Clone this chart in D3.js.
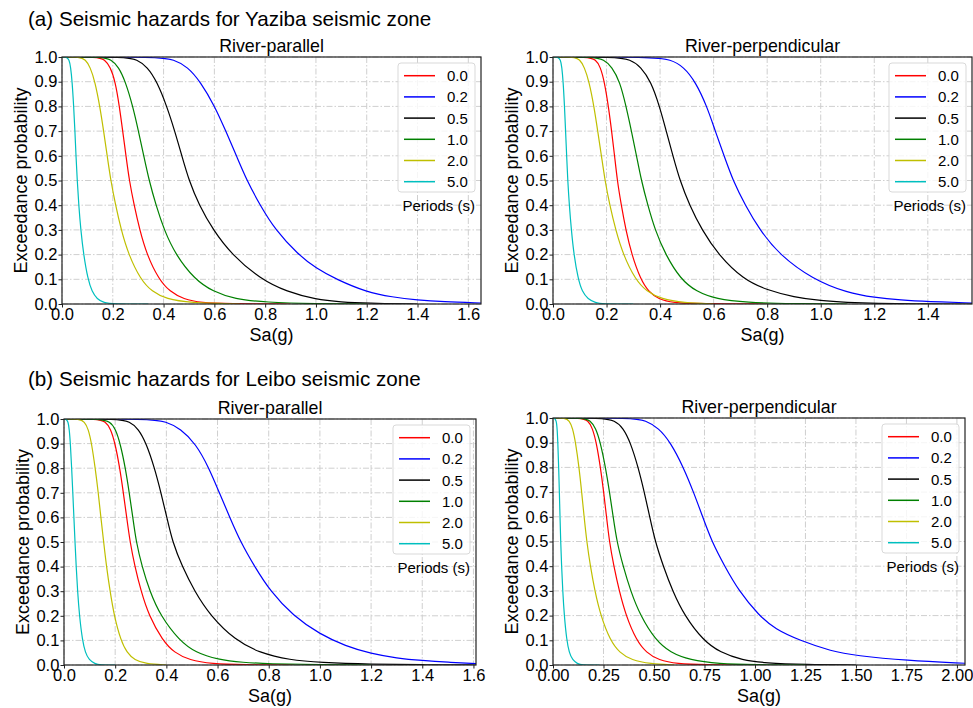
<!DOCTYPE html>
<html lang="en">
<head>
<meta charset="UTF-8" />
<title>Seismic hazards - exceedance probability</title>
<script src="https://d3js.org/d3.v7.min.js"></script>
<style>
  body { margin: 0; background: #fff; }
  svg text { font-family: Arial, "Liberation Sans", sans-serif; fill: #000; }
  .grid line { stroke: #cfcfcf; stroke-width: 1; stroke-dasharray: 6,2,1.5,2; }
</style>
</head>
<body>
<svg id="chart" width="973" height="708"></svg>
<script>
// ---------------------------------------------------------------
// Data: [Sa (g), exceedance probability]
// series order follows the periods list
// ---------------------------------------------------------------
const periods = ["0.0", "0.2", "0.5", "1.0", "2.0", "5.0"];
const yTicks = [0, 0.1, 0.2, 0.3, 0.4, 0.5, 0.6, 0.7, 0.8, 0.9, 1.0];
const xTicksA1 = [0, 0.2, 0.4, 0.6, 0.8, 1.0, 1.2, 1.4, 1.6];
const xTicksA2 = [0, 0.2, 0.4, 0.6, 0.8, 1.0, 1.2, 1.4];
const xTicksB1 = [0, 0.2, 0.4, 0.6, 0.8, 1.0, 1.2, 1.4, 1.6];
const xTicksB2 = [0, 0.25, 0.5, 0.75, 1.0, 1.25, 1.5, 1.75, 2.0];
const xMaxes = [1.65, 1.565, 1.61, 2.04];

// (a) Yaziba, river-parallel
const yazibaParallel = [
  [[0,1],[0.14,1],[0.168,0.99],[0.19,0.96],[0.21,0.9],[0.226,0.8],[0.239,0.7],[0.252,0.6],[0.265,0.5],[0.284,0.4],[0.306,0.3],[0.334,0.2],[0.381,0.1],[0.425,0.05],[0.478,0.02],[0.55,0.005],[0.65,0.001],[0.9,0]],
  [[0,1],[0.38,1],[0.44,0.99],[0.495,0.96],[0.545,0.9],[0.602,0.8],[0.645,0.7],[0.687,0.6],[0.728,0.5],[0.78,0.4],[0.84,0.3],[0.93,0.2],[1.0,0.145],[1.08,0.1],[1.2,0.048],[1.3,0.028],[1.4,0.016],[1.5,0.009],[1.65,0.004]],
  [[0,1],[0.25,1],[0.295,0.99],[0.336,0.96],[0.374,0.9],[0.413,0.8],[0.444,0.7],[0.472,0.6],[0.5,0.5],[0.54,0.4],[0.595,0.3],[0.668,0.2],[0.783,0.1],[0.885,0.05],[1.0,0.018],[1.1,0.008],[1.2,0.003],[1.4,0]],
  [[0,1],[0.16,1],[0.193,0.99],[0.223,0.96],[0.25,0.9],[0.279,0.8],[0.301,0.7],[0.322,0.6],[0.343,0.5],[0.37,0.4],[0.402,0.3],[0.447,0.2],[0.522,0.1],[0.595,0.05],[0.68,0.02],[0.8,0.007],[1.0,0.001],[1.2,0]],
  [[0,1],[0.07,1],[0.092,0.99],[0.111,0.96],[0.13,0.9],[0.149,0.8],[0.164,0.7],[0.178,0.6],[0.192,0.5],[0.211,0.4],[0.233,0.3],[0.262,0.2],[0.309,0.1],[0.354,0.05],[0.412,0.02],[0.5,0.005],[0.7,0]],
  [[0,1],[0.018,1],[0.028,0.99],[0.034,0.96],[0.04,0.9],[0.046,0.8],[0.051,0.7],[0.055,0.6],[0.06,0.5],[0.066,0.4],[0.074,0.3],[0.085,0.2],[0.102,0.1],[0.118,0.05],[0.138,0.02],[0.165,0.005],[0.2,0],[0.34,0]]
];

// (a) Yaziba, river-perpendicular
const yazibaPerp = [
  [[0,1],[0.13,1],[0.16,0.99],[0.177,0.96],[0.192,0.9],[0.207,0.8],[0.219,0.7],[0.23,0.6],[0.24,0.5],[0.255,0.4],[0.272,0.3],[0.294,0.2],[0.327,0.1],[0.357,0.05],[0.394,0.02],[0.447,0.005],[0.55,0.001],[0.8,0]],
  [[0,1],[0.37,1],[0.44,0.99],[0.488,0.96],[0.532,0.9],[0.575,0.8],[0.606,0.7],[0.639,0.6],[0.672,0.5],[0.718,0.4],[0.772,0.3],[0.845,0.2],[0.97,0.1],[1.1,0.045],[1.2,0.026],[1.3,0.016],[1.4,0.01],[1.565,0.004]],
  [[0,1],[0.23,1],[0.29,0.99],[0.328,0.96],[0.366,0.9],[0.398,0.8],[0.423,0.7],[0.448,0.6],[0.474,0.5],[0.51,0.4],[0.556,0.3],[0.617,0.2],[0.71,0.1],[0.8,0.056],[0.9,0.028],[1.0,0.013],[1.1,0.006],[1.2,0.002],[1.4,0],[1.565,0]],
  [[0,1],[0.15,1],[0.19,0.99],[0.22,0.96],[0.25,0.9],[0.273,0.8],[0.293,0.7],[0.312,0.6],[0.33,0.5],[0.354,0.4],[0.381,0.3],[0.42,0.2],[0.477,0.1],[0.535,0.05],[0.61,0.02],[0.72,0.006],[0.9,0.001],[1.1,0]],
  [[0,1],[0.08,1],[0.1,0.99],[0.117,0.96],[0.135,0.9],[0.153,0.8],[0.167,0.7],[0.181,0.6],[0.194,0.5],[0.212,0.4],[0.234,0.3],[0.262,0.2],[0.307,0.1],[0.35,0.05],[0.405,0.02],[0.488,0.005],[0.6,0]],
  [[0,1],[0.018,1],[0.028,0.99],[0.033,0.96],[0.038,0.9],[0.043,0.8],[0.047,0.7],[0.051,0.6],[0.055,0.5],[0.061,0.4],[0.0685,0.3],[0.078,0.2],[0.094,0.1],[0.109,0.05],[0.13,0.02],[0.16,0.005],[0.18,0],[0.3,0]]
];

// (b) Leibo, river-parallel
const leiboParallel = [
  [[0,1],[0.13,1],[0.163,0.99],[0.182,0.96],[0.2,0.9],[0.218,0.8],[0.232,0.7],[0.245,0.6],[0.258,0.5],[0.277,0.4],[0.301,0.3],[0.332,0.2],[0.385,0.1],[0.431,0.05],[0.49,0.02],[0.577,0.005],[0.7,0.001],[0.9,0]],
  [[0,1],[0.33,1],[0.4,0.99],[0.455,0.96],[0.515,0.9],[0.567,0.8],[0.607,0.7],[0.648,0.6],[0.69,0.5],[0.745,0.4],[0.806,0.3],[0.895,0.2],[1.0,0.125],[1.1,0.077],[1.2,0.046],[1.3,0.028],[1.4,0.018],[1.5,0.011],[1.61,0.006]],
  [[0,1],[0.21,1],[0.257,0.99],[0.291,0.96],[0.322,0.9],[0.354,0.8],[0.379,0.7],[0.402,0.6],[0.424,0.5],[0.462,0.4],[0.51,0.3],[0.572,0.2],[0.67,0.1],[0.763,0.05],[0.883,0.02],[1.0,0.01],[1.2,0.003],[1.4,0.001],[1.61,0]],
  [[0,1],[0.14,1],[0.18,0.99],[0.201,0.96],[0.22,0.9],[0.24,0.8],[0.255,0.7],[0.269,0.6],[0.282,0.5],[0.305,0.4],[0.335,0.3],[0.377,0.2],[0.45,0.1],[0.515,0.05],[0.6,0.022],[0.7,0.01],[0.8,0.005],[1.0,0.001],[1.2,0]],
  [[0,1],[0.06,1],[0.08,0.99],[0.095,0.96],[0.108,0.9],[0.122,0.8],[0.134,0.7],[0.144,0.6],[0.155,0.5],[0.166,0.4],[0.18,0.3],[0.196,0.2],[0.222,0.1],[0.246,0.05],[0.276,0.02],[0.319,0.005],[0.4,0]],
  [[0,1],[0.008,1],[0.016,0.99],[0.0205,0.96],[0.025,0.9],[0.03,0.8],[0.0344,0.7],[0.0387,0.6],[0.043,0.5],[0.0476,0.4],[0.0531,0.3],[0.0603,0.2],[0.072,0.1],[0.0833,0.05],[0.098,0.02],[0.121,0.005],[0.14,0],[0.2,0]]
];

// (b) Leibo, river-perpendicular
const leiboPerp = [
  [[0,1],[0.14,1],[0.174,0.99],[0.195,0.96],[0.215,0.9],[0.235,0.8],[0.251,0.7],[0.265,0.6],[0.279,0.5],[0.301,0.4],[0.328,0.3],[0.361,0.2],[0.413,0.1],[0.462,0.05],[0.523,0.02],[0.614,0.005],[0.75,0.001],[1.0,0]],
  [[0,1],[0.4,1],[0.457,0.99],[0.523,0.96],[0.583,0.9],[0.646,0.8],[0.696,0.7],[0.741,0.6],[0.786,0.5],[0.85,0.4],[0.92,0.3],[1.02,0.2],[1.1,0.145],[1.22,0.1],[1.38,0.055],[1.5,0.038],[1.75,0.018],[2.04,0.007]],
  [[0,1],[0.24,1],[0.307,0.99],[0.347,0.96],[0.384,0.9],[0.422,0.8],[0.452,0.7],[0.479,0.6],[0.506,0.5],[0.546,0.4],[0.592,0.3],[0.651,0.2],[0.743,0.1],[0.829,0.05],[0.937,0.02],[1.05,0.008],[1.25,0.002],[1.5,0]],
  [[0,1],[0.15,1],[0.185,0.99],[0.211,0.96],[0.235,0.9],[0.26,0.8],[0.28,0.7],[0.298,0.6],[0.316,0.5],[0.347,0.4],[0.384,0.3],[0.432,0.2],[0.508,0.1],[0.581,0.05],[0.677,0.02],[0.82,0.005],[1.0,0.001],[1.25,0]],
  [[0,1],[0.06,1],[0.081,0.99],[0.097,0.96],[0.112,0.9],[0.129,0.8],[0.142,0.7],[0.154,0.6],[0.167,0.5],[0.185,0.4],[0.207,0.3],[0.236,0.2],[0.283,0.1],[0.329,0.05],[0.389,0.02],[0.482,0.005],[0.6,0]],
  [[0,1],[0.007,1],[0.0165,0.99],[0.0203,0.96],[0.024,0.9],[0.0281,0.8],[0.0315,0.7],[0.0347,0.6],[0.038,0.5],[0.0426,0.4],[0.0482,0.3],[0.0557,0.2],[0.068,0.1],[0.0802,0.05],[0.0966,0.02],[0.122,0.005],[0.14,0],[0.23,0]]
];

// ---------------------------------------------------------------
// Styling / layout
// ---------------------------------------------------------------
const lineColors = ["#ff0000", "#0000ff", "#000000", "#008000", "#bfbf00", "#00bfbf"];
const FONT = 'Arial, "Liberation Sans", sans-serif';

const panels = [
  { title: "River-parallel",      series: yazibaParallel, xMax: xMaxes[0], xTicks: xTicksA1, fmt: d3.format(".1f"), left: 62,  right: 481, top: 57,  bottom: 304 },
  { title: "River-perpendicular", series: yazibaPerp,     xMax: xMaxes[1], xTicks: xTicksA2, fmt: d3.format(".1f"), left: 553, right: 972, top: 57,  bottom: 304 },
  { title: "River-parallel",      series: leiboParallel,  xMax: xMaxes[2], xTicks: xTicksB1, fmt: d3.format(".1f"), left: 64,  right: 476, top: 419, bottom: 665 },
  { title: "River-perpendicular", series: leiboPerp,      xMax: xMaxes[3], xTicks: xTicksB2, fmt: d3.format(".2f"), left: 553, right: 965, top: 418, bottom: 665 }
];

const svg = d3.select("#chart");

svg.append("text").attr("x", 28).attr("y", 25.5).attr("font-size", 20.6)
  .text("(a) Seismic hazards for Yaziba seismic zone");
svg.append("text").attr("x", 28).attr("y", 386).attr("font-size", 20.6)
  .text("(b) Seismic hazards for Leibo seismic zone");

panels.forEach((p, i) => {
  const g = svg.append("g");
  const x = d3.scaleLinear().domain([0, p.xMax]).range([p.left, p.right]);
  const y = d3.scaleLinear().domain([0, 1]).range([p.bottom, p.top]);

  // grid
  g.append("g").attr("class", "grid").selectAll("line").data(p.xTicks).join("line")
    .attr("x1", d => x(d)).attr("x2", d => x(d))
    .attr("y1", p.top).attr("y2", p.bottom);
  g.append("g").attr("class", "grid").selectAll("line").data(yTicks).join("line")
    .attr("x1", p.left).attr("x2", p.right)
    .attr("y1", d => y(d)).attr("y2", d => y(d));

  // curves, clipped to the axes box
  const clipId = "clip" + i;
  svg.append("clipPath").attr("id", clipId).append("rect")
    .attr("x", p.left).attr("y", p.top)
    .attr("width", p.right - p.left).attr("height", p.bottom - p.top);

  // basis spline smooths the hand-read points
  const line = d3.line().x(d => x(d[0])).y(d => y(d[1])).curve(d3.curveBasis);
  g.append("g").attr("clip-path", `url(#${clipId})`)
    .selectAll("path").data(p.series).join("path")
    .attr("d", line)
    .attr("fill", "none")
    .attr("stroke", (d, j) => lineColors[j])
    .attr("stroke-width", 1.2);

  // axes
  const xAxis = g.append("g").attr("transform", `translate(0,${p.bottom})`)
    .call(d3.axisBottom(x).tickValues(p.xTicks).tickFormat(p.fmt).tickSize(3.5).tickPadding(1.1));
  const yAxis = g.append("g").attr("transform", `translate(${p.left},0)`)
    .call(d3.axisLeft(y).tickValues(yTicks).tickFormat(d3.format(".1f")).tickSize(3.5).tickPadding(1.2));
  [xAxis, yAxis].forEach(a => {
    a.attr("font-size", 16.5).attr("font-family", FONT);
    a.select(".domain").remove();
    a.selectAll(".tick line").attr("stroke", "#222");
  });

  // spines
  g.append("rect")
    .attr("x", p.left).attr("y", p.top)
    .attr("width", p.right - p.left).attr("height", p.bottom - p.top)
    .attr("fill", "none").attr("stroke", "#222").attr("stroke-width", 1.2);

  // titles and labels
  g.append("text").attr("x", (p.left + p.right) / 2).attr("y", p.top - 5.5)
    .attr("text-anchor", "middle").attr("font-size", 17.8).text(p.title);
  g.append("text").attr("x", (p.left + p.right) / 2).attr("y", p.bottom + 36.8)
    .attr("text-anchor", "middle").attr("font-size", 18).text("Sa(g)");
  g.append("text")
    .attr("transform", `translate(${p.left - 35.5},${(p.top + p.bottom) / 2}) rotate(-90)`)
    .attr("text-anchor", "middle").attr("font-size", 18).text("Exceedance probability");

  // legend
  const bw = 77, bh = 129;
  const bx = p.right - 6 - bw, by = p.top + 6;
  const leg = g.append("g");
  leg.append("rect").attr("x", bx).attr("y", by).attr("width", bw).attr("height", bh)
    .attr("rx", 3).attr("fill", "#fff").attr("fill-opacity", 0.8)
    .attr("stroke", "#d9d9d9").attr("stroke-width", 1);
  const items = leg.selectAll("g.item").data(periods).join("g").attr("class", "item")
    .attr("transform", (d, j) => `translate(0,${by + 12.7 + j * 21.2})`);
  items.append("line").attr("x1", bx + 6).attr("x2", bx + 37).attr("y1", 0).attr("y2", 0)
    .attr("stroke", (d, j) => lineColors[j]).attr("stroke-width", 1.5);
  items.append("text").attr("x", bx + 49).attr("y", 0).attr("dy", "0.36em")
    .attr("font-size", 15).text(d => d);
  leg.append("text").attr("x", bx + bw).attr("y", by + 12.7 + 5 * 21.2 + 29)
    .attr("text-anchor", "end").attr("font-size", 15).text("Periods (s)");
});
</script>
</body>
</html>
